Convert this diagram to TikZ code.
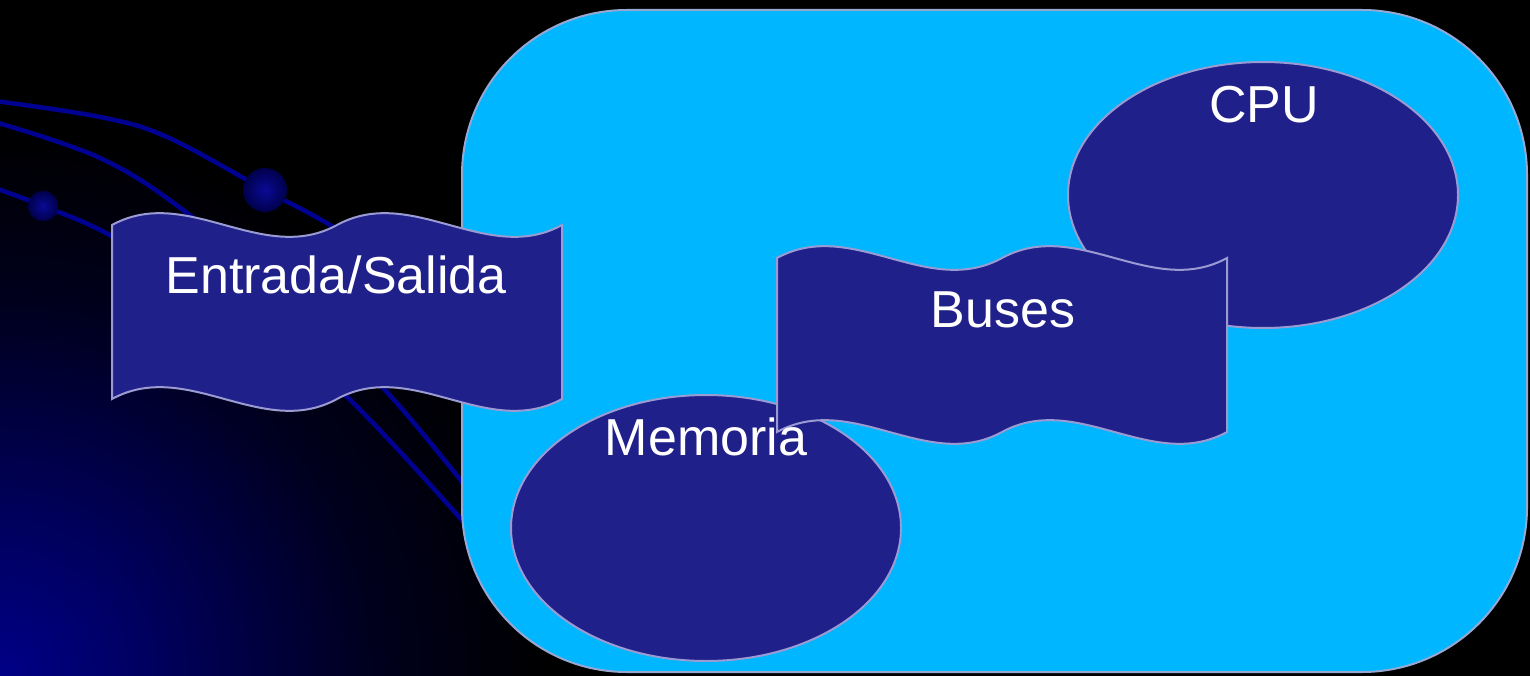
\documentclass[tikz,border=0pt]{standalone}
\usepackage{fontspec}
\setmainfont{Liberation Sans}
\usetikzlibrary{shapes.geometric}
\definecolor{glowA}{RGB}{0,0,135}
\definecolor{glowB}{RGB}{0,0,95}
\definecolor{glowC}{RGB}{0,0,30}
\definecolor{sysblue}{RGB}{0,182,255}
\definecolor{sysedge}{RGB}{150,168,210}
\definecolor{partfill}{RGB}{32,32,138}
\definecolor{partedge}{RGB}{155,155,212}
\definecolor{decoline}{RGB}{0,0,145}
\definecolor{dotin}{RGB}{10,10,150}
\definecolor{dotout}{RGB}{0,0,75}
\pgfdeclareradialshading{cornerglow}{\pgfpoint{0bp}{0bp}}{color(0bp)=(glowA); color(6bp)=(glowB); color(15bp)=(glowC); color(22bp)=(black); color(50bp)=(black)}
\tikzset{
  sysbox/.style={fill=sysblue, draw=sysedge, line width=2pt, rounded corners=165pt},
  part/.style={fill=partfill, draw=partedge, line width=2pt},
  partellipse/.style={part, ellipse, inner sep=0pt, minimum width=390pt, minimum height=266pt},
  lbl/.style={text=white, font=\fontsize{52}{60}\selectfont, inner sep=0pt, anchor=base},
  deco/.style={draw=decoline, line width=4.5pt},
  decodot/.style={inner color=dotin, outer color=dotout},
}
\begin{document}
\begin{tikzpicture}[x=1pt, y=-1pt]
\useasboundingbox (0,0) rectangle (1530,676);
% background
\fill[black] (0,0) rectangle (1530,676);
\begin{scope}
  \clip (0,0) rectangle (1530,676);
  \shade[shading=cornerglow] (0,676) circle[radius=620pt];
  % decorative arcs
  \draw[deco] plot[smooth, tension=0.6] coordinates {(-5,101) (100,117) (167,137) (265,190) (335,228) (420,285) (500,345)};
  \draw[deco] plot[smooth, tension=0.6] coordinates {(-5,122) (100,158) (183,210) (290,300) (385,390) (470,492)};
  \draw[deco] plot[smooth, tension=0.6] coordinates {(-5,188) (43,206) (110,235) (230,305) (345,395) (475,535)};
  \shade[decodot] (265,190) circle[radius=22pt];
  \shade[decodot] (43,206) circle[radius=15pt];
\end{scope}
% system box
\draw[sysbox] (462,10) rectangle (1527,672);
% memory and cpu
\node[partellipse] (mem) at (706,528) {};
\node[partellipse] (cpu) at (1263,195) {};
% buses banner
\draw[part] (777,258) .. controls (852,217) and (927,299) .. (1002,258)
  .. controls (1077,217) and (1152,299) .. (1227,258) -- (1227,432)
  .. controls (1152,473) and (1077,391) .. (1002,432)
  .. controls (927,473) and (852,391) .. (777,432) -- cycle;
% entrada/salida banner
\draw[part] (112,225) .. controls (187,184) and (262,266) .. (337,225)
  .. controls (412,184) and (487,266) .. (562,225) -- (562,399)
  .. controls (487,440) and (412,358) .. (337,399)
  .. controls (262,440) and (187,358) .. (112,399) -- cycle;
% labels
\node[lbl] (eslbl) at (336,293) {Entrada/Salida};
\node[lbl] (buslbl) at (1003,327) {Buses};
\node[lbl] (cpulbl) at (1264,123) {CPU};
\node[lbl] (memlbl) at (706,455) {Memoria};
\end{tikzpicture}
\end{document}
